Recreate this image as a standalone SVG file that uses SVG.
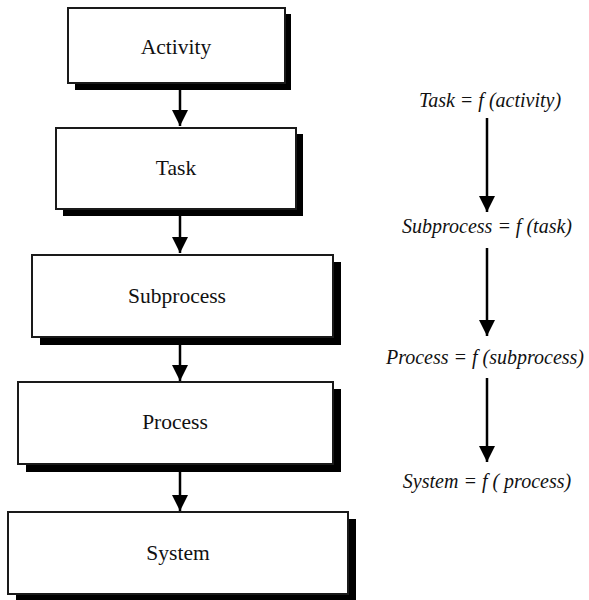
<svg xmlns="http://www.w3.org/2000/svg" width="589" height="600" viewBox="0 0 589 600">
<defs>
<marker id="ah" viewBox="0 0 16 18" refX="16" refY="8" markerWidth="16" markerHeight="18" markerUnits="userSpaceOnUse" orient="auto">
<path d="M0,0 L16,8 L0,16 Z" fill="#000"/>
</marker>
</defs>
<style>
.box{fill:#fff;stroke:#1a1a1a;stroke-width:2}
.sh{fill:#000}
.lbl{font-family:"Liberation Serif","Times New Roman",serif;font-size:21.5px;fill:#111;text-anchor:middle}
.eq{font-family:"Liberation Serif","Times New Roman",serif;font-size:20px;font-style:italic;fill:#111;text-anchor:middle}
.con{stroke:#000;stroke-width:2.5;fill:none;marker-end:url(#ah)}
</style>
<rect width="589" height="600" fill="#fff"/>
<g id="activity">
<rect class="sh" x="75" y="14" width="216" height="76"/>
<rect class="box" x="68" y="8" width="217" height="75"/>
<text class="lbl" x="176" y="54">Activity</text>
</g>
<g id="task">
<rect class="sh" x="63" y="134" width="240" height="82"/>
<rect class="box" x="56" y="128" width="240" height="81"/>
<text class="lbl" x="176" y="175">Task</text>
</g>
<g id="subprocess">
<rect class="sh" x="40" y="262" width="301" height="83"/>
<rect class="box" x="32" y="255" width="301" height="82"/>
<text class="lbl" x="177" y="303">Subprocess</text>
</g>
<g id="process">
<rect class="sh" x="26" y="389" width="315" height="83"/>
<rect class="box" x="18" y="382" width="315" height="82"/>
<text class="lbl" x="175" y="429">Process</text>
</g>
<g id="system">
<rect class="sh" x="16" y="519" width="340" height="81"/>
<rect class="box" x="8" y="512" width="340" height="82"/>
<text class="lbl" x="178" y="560">System</text>
</g>
<g id="equations">
<text class="eq" x="490" y="107">Task = f (activity)</text>
<text class="eq" x="487" y="233">Subprocess = f (task)</text>
<text class="eq" x="485" y="364">Process = f (subprocess)</text>
<text class="eq" x="487" y="488">System = f ( process)</text>
</g>
<g id="connectors">
<line class="con" x1="180" y1="90" x2="180" y2="126"/>
<line class="con" x1="180" y1="216" x2="180" y2="253"/>
<line class="con" x1="180" y1="345" x2="180" y2="381"/>
<line class="con" x1="180" y1="472" x2="180" y2="511"/>
<line class="con" x1="487" y1="118" x2="487" y2="212"/>
<line class="con" x1="487" y1="248" x2="487" y2="336"/>
<line class="con" x1="487" y1="378" x2="487" y2="462"/>
</g>
</svg>
